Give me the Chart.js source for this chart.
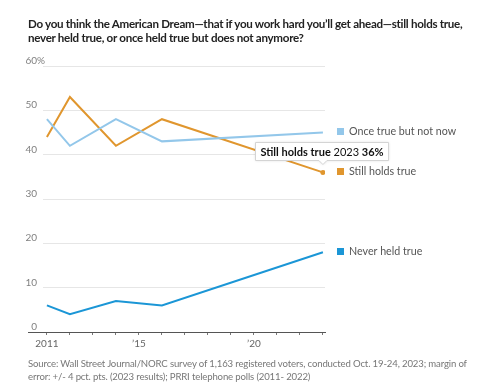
<!DOCTYPE html>
<html>
<head>
<meta charset="utf-8">
<script src="https://cdn.jsdelivr.net/npm/chart.js@4"></script>
<style>
    body { margin: 0; background: #fff; width: 480px; height: 391px; overflow: hidden; position: relative; font-family: Lato, "Noto Sans", sans-serif; }
    #title { position: absolute; left: 28px; top: 17px; font-size: 11.6px; letter-spacing: -0.29px; font-weight: bold; color: #222; line-height: 14px; white-space: nowrap; }
    #source { position: absolute; left: 28px; top: 357px; font-size: 9.6px; letter-spacing: -0.15px; color: #777; line-height: 13px; white-space: nowrap; }
    #wrap { position: absolute; left: 0; top: 0; width: 480px; height: 391px; }
</style>
</head>
<body>
<div id="wrap"><canvas id="chart"></canvas></div>
<div id="title">Do you think the American Dream—that if you work hard you’ll get ahead—still holds true,<br>never held true, or once held true but does not anymore?</div>
<div id="source">Source: Wall Street Journal/NORC survey of 1,163 registered voters, conducted Oct. 19-24, 2023; margin of<br>error: +/- 4 pct. pts. (2023 results); PRRI telephone polls (2011- 2022)</div>
<script>
const years = [2011, 2012, 2014, 2016, 2023];
const onceTrue = [48, 42, 48, 43, 45];
const stillHolds = [44, 53, 42, 48, 36];
const neverHeld = [6, 4, 7, 6, 18];

const seriesNames = ['Once true but not now', 'Still holds true', 'Never held true'];
const seriesColors = ['#93c7ea', '#e0962e', '#1b96d6'];

const yTicks = [0, 10, 20, 30, 40, 50, 60];
const xLabels = { 2011: '2011', 2015: '’15', 2020: '’20' };

function toPoints(values) {
    return values.map((v, i) => ({ x: years[i], y: v }));
}

const lastIndex = years.length - 1;

const overlay = {
    id: 'overlay',
    afterDraw(chart) {
        const ctx = chart.ctx;
        const area = chart.chartArea;
        const xs = chart.scales.x;
        const ys = chart.scales.y;

        // baseline runs a bit further left than the grid
        ctx.save();
        ctx.strokeStyle = '#555';
        ctx.lineWidth = 1;
        ctx.beginPath();
        ctx.moveTo(28, Math.round(area.bottom) + 0.5);
        ctx.lineTo(area.left, Math.round(area.bottom) + 0.5);
        ctx.stroke();

        // y labels sitting above the grid lines
        ctx.font = '10px Lato';
        ctx.fillStyle = '#808080';
        ctx.textBaseline = 'alphabetic';
        yTicks.forEach(t => {
            const y = ys.getPixelForValue(t) - 2;
            ctx.textAlign = 'right';
            ctx.fillText(String(t), 37, y);
            if (t === 60) {
                ctx.textAlign = 'left';
                ctx.fillText('%', 37, y);
            }
        });

        // end labels
        const ends = [onceTrue, stillHolds, neverHeld];
        ctx.font = '10.7px Lato';
        ctx.textAlign = 'left';
        ctx.textBaseline = 'middle';
        ends.forEach((vals, i) => {
            const y = ys.getPixelForValue(vals[lastIndex]) - 1.5;
            ctx.fillStyle = seriesColors[i];
            ctx.fillRect(337, Math.round(y - 3), 7, 7);
            ctx.fillStyle = '#555';
            ctx.fillText(seriesNames[i], 349, y + 0.5);
        });

        // tooltip on the last orange point
        const px = xs.getPixelForValue(years[lastIndex]);
        const py = ys.getPixelForValue(stillHolds[lastIndex]);
        const parts = [
            { t: seriesNames[1], f: 'bold 11px Lato' },
            { t: ' ' + years[lastIndex], f: '11px Lato' },
            { t: ' ' + stillHolds[lastIndex] + '%', f: 'bold 11px Lato' }
        ];
        let w = 0;
        parts.forEach(p => { ctx.font = p.f; p.w = ctx.measureText(p.t).width; w += p.w; });
        const bw = w + 10, bh = 18;
        const bx = Math.round(px - bw / 2 - 1) + 0.5;
        const by = Math.round(py - 12 - bh) + 0.5;
        ctx.shadowColor = 'rgba(0,0,0,0.15)';
        ctx.shadowBlur = 3;
        ctx.fillStyle = '#fff';
        ctx.strokeStyle = '#d4d4d4';
        ctx.beginPath();
        ctx.moveTo(bx, by);
        ctx.lineTo(bx + bw, by);
        ctx.lineTo(bx + bw, by + bh);
        ctx.lineTo(px + 4, by + bh);
        ctx.lineTo(px, by + bh + 4);
        ctx.lineTo(px - 4, by + bh);
        ctx.lineTo(bx, by + bh);
        ctx.closePath();
        ctx.fill();
        ctx.shadowColor = 'transparent';
        ctx.stroke();
        let tx = bx + 5;
        ctx.fillStyle = '#111';
        ctx.textAlign = 'left';
        ctx.textBaseline = 'middle';
        parts.forEach(p => {
            ctx.font = p.f;
            ctx.fillText(p.t, tx, by + bh / 2 + 0.5);
            tx += p.w;
        });
        ctx.restore();
    }
};

const chart = new Chart(document.getElementById('chart'), {
    type: 'line',
    data: {
        datasets: [
            {
                label: seriesNames[0],
                data: toPoints(onceTrue),
                borderColor: seriesColors[0],
                borderWidth: 2,
                pointRadius: 0
            },
            {
                label: seriesNames[1],
                data: toPoints(stillHolds),
                borderColor: seriesColors[1],
                backgroundColor: seriesColors[1],
                borderWidth: 2,
                pointRadius: ctx => ctx.dataIndex === lastIndex ? 2.5 : 0,
                pointBorderWidth: 0
            },
            {
                label: seriesNames[2],
                data: toPoints(neverHeld),
                borderColor: seriesColors[2],
                borderWidth: 2,
                pointRadius: 0
            }
        ]
    },
    options: {
        responsive: true,
        maintainAspectRatio: false,
        animation: false,
        events: [],
        layout: {
            padding: { left: 43, right: 155, top: 66, bottom: 39 }
        },
        plugins: {
            legend: { display: false },
            tooltip: { enabled: false }
        },
        scales: {
            x: {
                type: 'linear',
                min: 2010.83,
                max: 2023.09,
                afterBuildTicks: scale => {
                    scale.ticks = [];
                    for (let y = 2011; y <= 2023; y++) scale.ticks.push({ value: y });
                },
                afterFit: scale => { scale.height = 20; },
                grid: {
                    drawOnChartArea: false,
                    drawTicks: true,
                    tickLength: 3,
                    color: '#777'
                },
                border: { display: true, color: '#555', width: 1 },
                ticks: {
                    autoSkip: false,
                    maxRotation: 0,
                    padding: 3,
                    color: '#666',
                    font: { family: 'Lato', size: 10 },
                    callback: v => xLabels[v] || ''
                }
            },
            y: {
                min: 0,
                max: 60,
                afterBuildTicks: scale => {
                    scale.ticks = yTicks.map(v => ({ value: v }));
                },
                afterFit: scale => { scale.width = 0; },
                grid: {
                    drawTicks: false,
                    color: '#e6e6e6'
                },
                border: { display: false },
                ticks: { display: false }
            }
        }
    },
    plugins: [overlay]
});
</script>
</body>
</html>
